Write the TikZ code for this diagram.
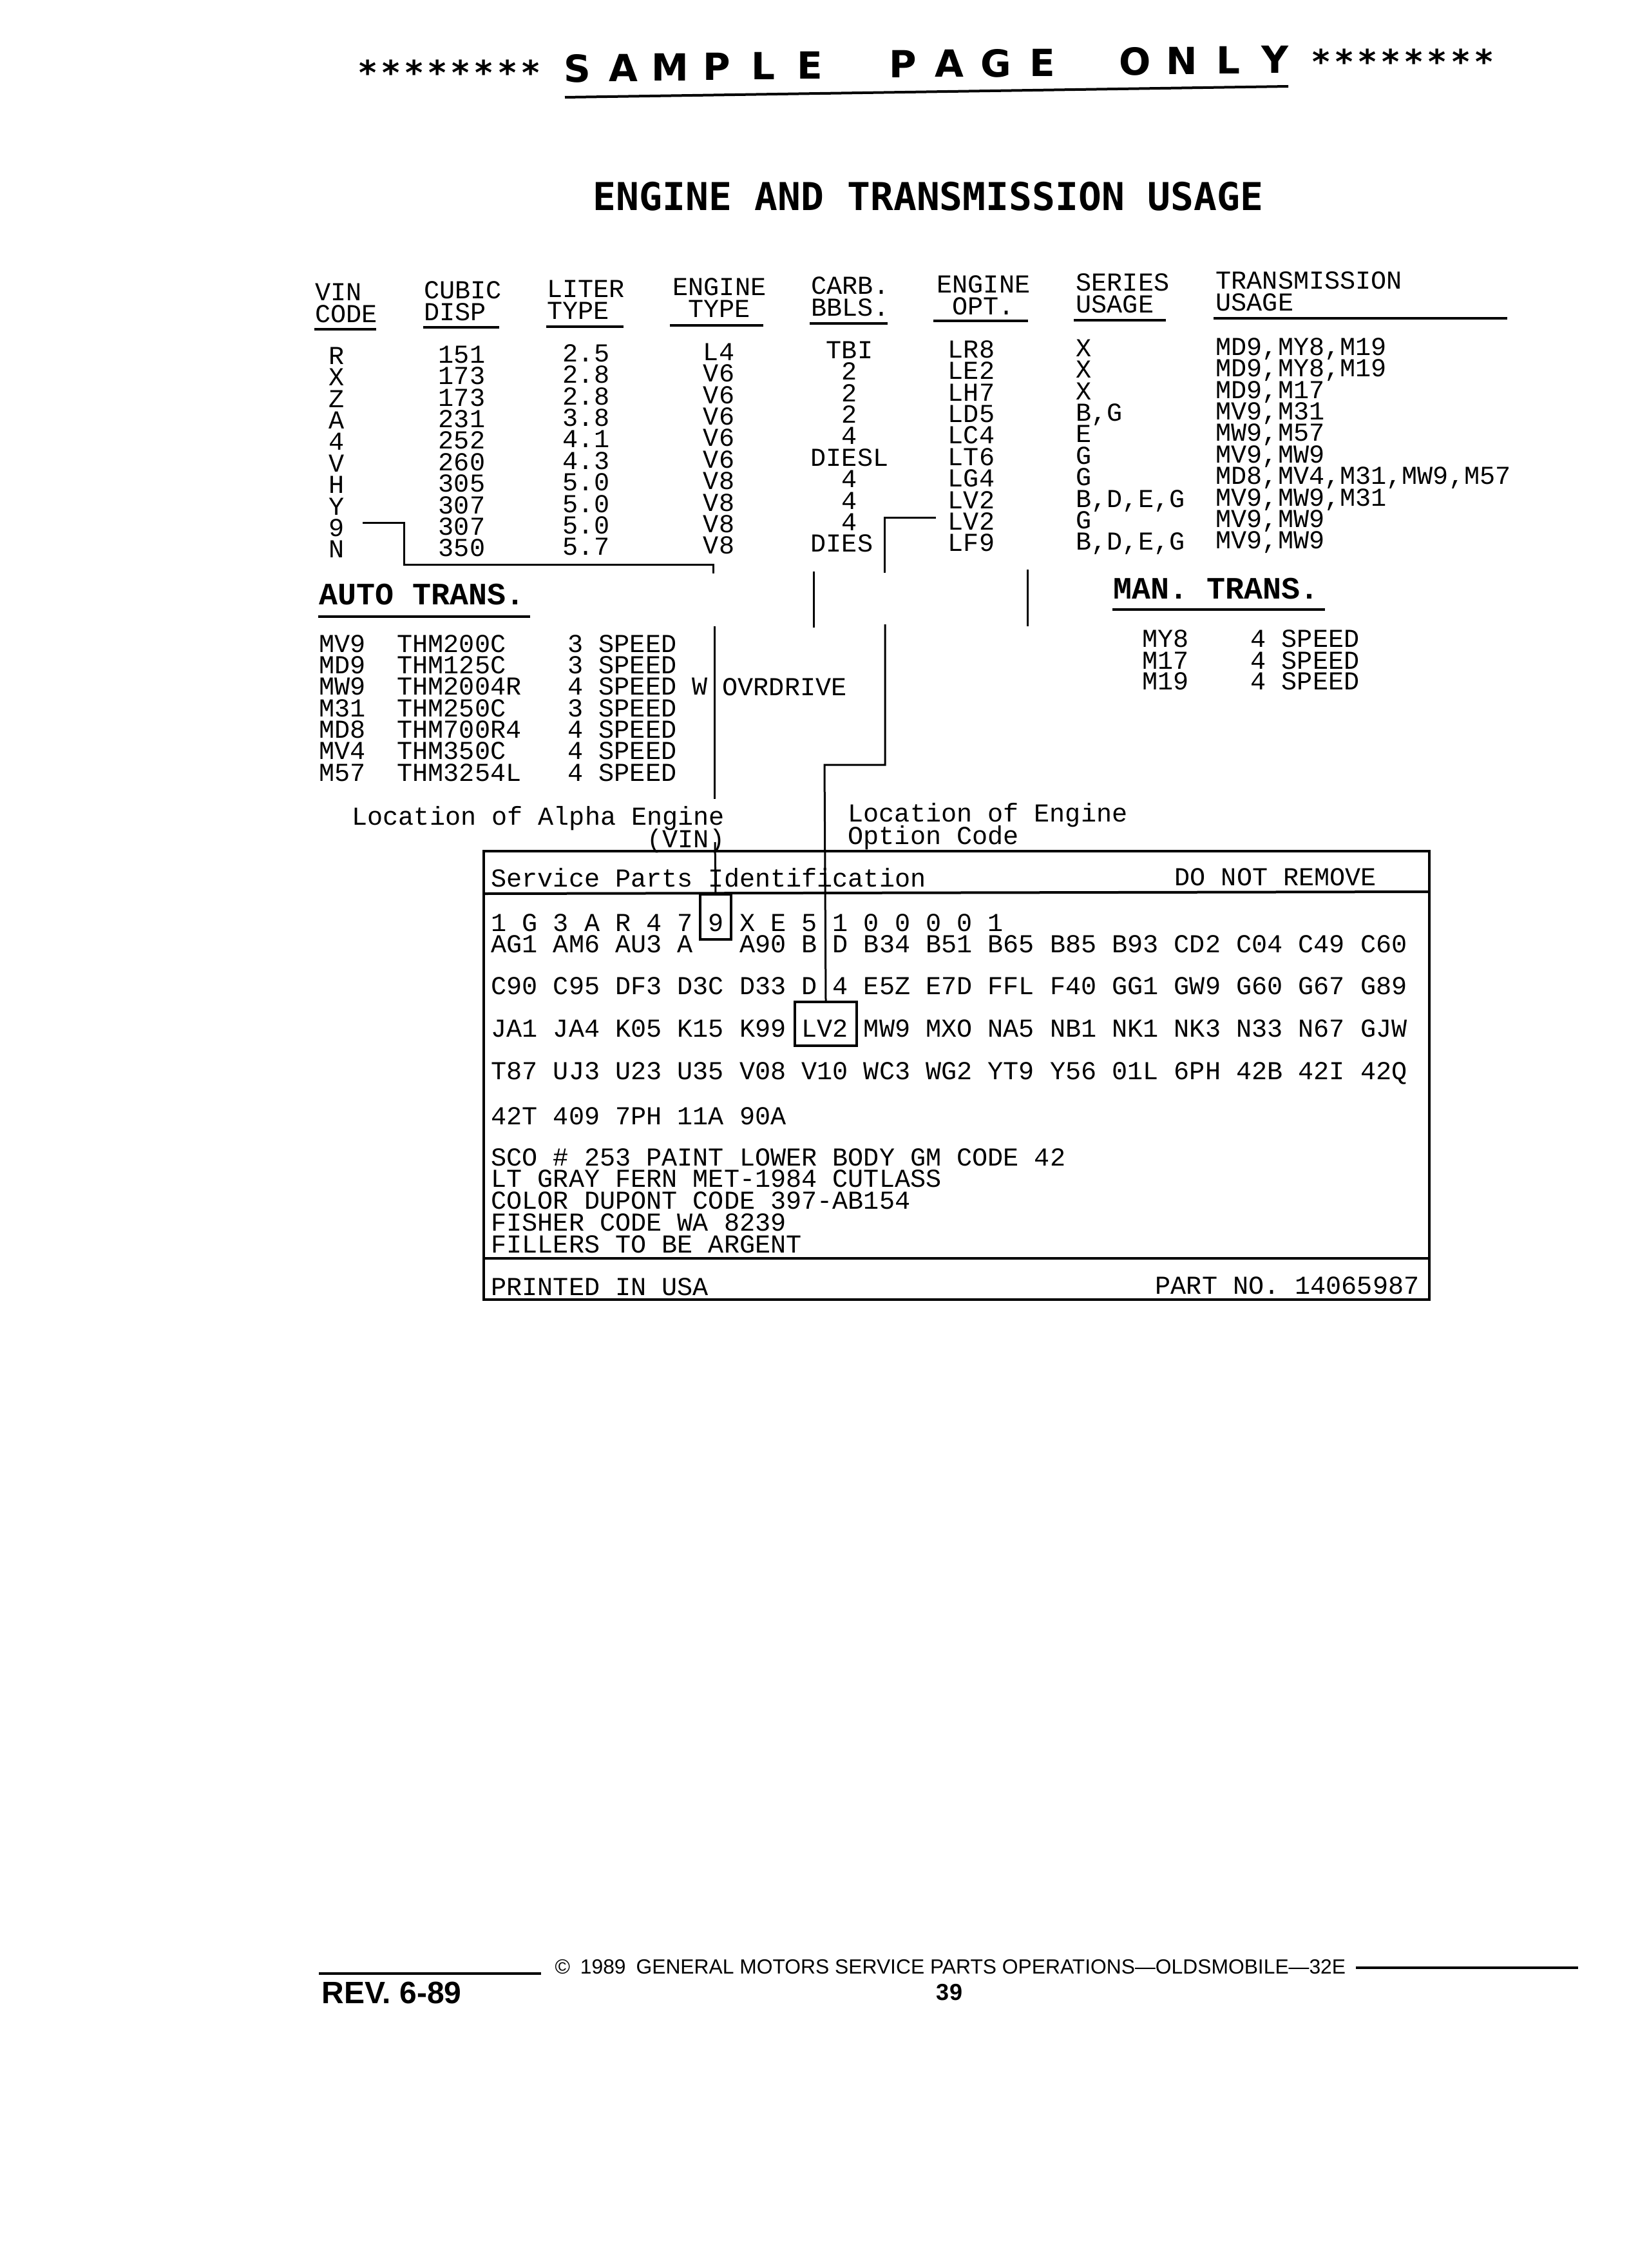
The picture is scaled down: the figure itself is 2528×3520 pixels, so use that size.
\documentclass[tikz,border=0pt]{standalone}
\usepackage{fontspec}
\setmainfont{Liberation Sans}
\setmonofont{Liberation Mono}
\newfontfamily\headfont{DejaVu Sans Mono}
\newfontfamily\samplefont{DejaVu Sans}
\usetikzlibrary{positioning}

\begin{document}
\begin{tikzpicture}[x=0.25pt, y=-0.25pt, line width=0.8pt]
    \tikzstyle{txt}=[inner sep=0pt, font=\ttfamily\fontsize{10.04}{12}\selectfont, text height=6.62pt, text depth=0pt]
    \tikzstyle{lt}=[txt, anchor=west]
    \tikzstyle{hd}=[inner sep=0pt, font=\headfont\bfseries\fontsize{14.9}{17}\selectfont, text height=10.86pt, text depth=0pt]
    \tikzstyle{sub}=[inner sep=0pt, anchor=west, font=\ttfamily\bfseries\fontsize{12.08}{14}\selectfont, text height=7.96pt, text depth=0pt]
    \tikzstyle{spl}=[inner sep=0pt, font=\samplefont\bfseries\fontsize{14.5}{17}\selectfont, text height=10.57pt, text depth=0pt]
    \tikzstyle{star}=[inner sep=0pt, anchor=north, font=\samplefont\bfseries\fontsize{13}{15}\selectfont]
    \tikzstyle{rule}=[line width=0.9pt]
    \tikzstyle{conn}=[line width=0.75pt]
    \tikzstyle{codebox}=[draw, line width=0.8pt, inner sep=0pt]
    \tikzstyle{foot}=[inner sep=0pt, text depth=0pt]

    \path[fill=white, use as bounding box] (0,0) rectangle (2528,3520);

    % sample page banner
    \foreach \k in {0,...,7} {
        \node[star] (al\k) at (571+36.1*\k,91) {*};
        \node[star] (ar\k) at (2051+36.1*\k,74) {*};
    }
    \foreach \k/\ch in {0/S,1/A,2/M,3/P,4/L,5/E,7/P,8/A,9/G,10/E,12/O,13/N,14/L,15/Y}
        \node[spl] (sp\k) at (896+72.2*\k,106-0.9*\k) {\ch};
    \draw[line width=1pt] (877,151) -- (2000,134);

    \node[hd] (title) at (1441,305) {ENGINE AND TRANSMISSION USAGE};

    % column heads
    \foreach \hx/\hy/\ha/\hb/\ho in {488/453/VIN/CODE/0, 657/450/CUBIC/DISP/0, 848/448/LITER/TYPE/0,
        1043/445/ENGINE/TYPE/24, 1258/443/CARB./BBLS./0, 1453/441/ENGINE/OPT./24,
        1669/438/SERIES/USAGE/0, 1886/435/TRANSMISSION/USAGE/0} {
        \node[lt] (ha\hx) at (\hx,\hy) {\ha};
        \node[lt] (hb\hx) at (\hx+\ho,\hy+34) {\hb};
    }
    \foreach \ua/\ub/\uy in {488/584/511, 657/775/508, 848/968/507, 1040/1185/505,
        1257/1378/502, 1449/1596/498, 1667/1810/497, 1884/2340/494}
        \draw[rule] (\ua,\uy) -- (\ub,\uy);

    % engine rows
    \foreach \vc/\cd/\lt/\et/\cb/\eo/\su/\tu [count=\i from 0] in {
        R/151/2.5/L4/TBI/LR8/X/{MD9,MY8,M19},
        X/173/2.8/V6/2/LE2/X/{MD9,MY8,M19},
        Z/173/2.8/V6/2/LH7/X/{MD9,M17},
        A/231/3.8/V6/2/LD5/{B,G}/{MV9,M31},
        4/252/4.1/V6/4/LC4/E/{MW9,M57},
        V/260/4.3/V6/DIESL/LT6/G/{MV9,MW9},
        H/305/5.0/V8/4/LG4/G/{MD8,MV4,M31,MW9,M57},
        Y/307/5.0/V8/4/LV2/{B,D,E,G}/{MV9,MW9,M31},
        9/307/5.0/V8/4/LV2/G/{MV9,MW9},
        N/350/5.7/V8/{DIES\phantom{L}}/LF9/{B,D,E,G}/{MV9,MW9}} {
        \node[txt] (vc\i) at (523,552+33.4*\i) {\vc};
        \node[txt] (cd\i) at (717,550+33.4*\i) {\cd};
        \node[txt] (lt\i) at (910,548+33.4*\i) {\lt};
        \node[txt] (et\i) at (1116,546+33.4*\i) {\et};
        \node[txt] (cb\i) at (1319,543+33.4*\i) {\cb};
        \node[txt] (eo\i) at (1508,542+33.4*\i) {\eo};
        \node[lt] (su\i) at (1669,540+33.4*\i) {\su};
        \node[lt] (tu\i) at (1886,538+33.4*\i) {\tu};
    }

    % automatic transmissions
    \node[sub] (auto) at (494,923) {AUTO TRANS.};
    \draw[rule] (494,957) -- (823,957);
    \foreach \ta/\tb/\tc [count=\i from 0] in {MV9/THM200C/3 SPEED, MD9/THM125C/3 SPEED,
        MW9/THM2004R/4 SPEED W, M31/THM250C/3 SPEED, MD8/THM700R4/4 SPEED,
        MV4/THM350C/4 SPEED, M57/THM3254L/4 SPEED} {
        \node[lt] (ta\i) at (494,999+33.3*\i) {\ta};
        \node[lt] (tb\i) at (615,999+33.3*\i) {\tb};
        \node[lt] (tc\i) at (880,999+33.3*\i) {\tc};
    }
    \node[lt] (ovr) at (1120,1066) {OVRDRIVE};

    % manual transmissions
    \node[sub] (man) at (1727,914) {MAN. TRANS.};
    \draw[rule] (1727,946) -- (2057,946);
    \foreach \ma/\my in {MY8/991, M17/1025, M19/1057} {
        \node[lt] (ma\ma) at (1772,\my) {\ma};
        \node[lt] (mb\ma) at (1940,\my) {4 SPEED};
    }

    % callouts
    \node[lt] (alpha) at (545,1267) {Location of Alpha Engine};
    \node[lt] (vinlbl) at (1003,1302) {(VIN)};
    \node[lt] (optlbl) at (1315,1262) {Location of Engine};
    \node[lt] (optlbl2) at (1315,1297) {Option Code};

    % service parts identification label
    \draw[line width=1pt] (751,1321) rectangle (2219,2017);
    \draw[line width=1pt] (751,1387) -- (2219,1384);
    \draw[line width=1pt] (751,1953) -- (2219,1953);
    \node[lt] (spid) at (761,1363) {Service Parts Identification};
    \node[lt] (dnr) at (1822,1361) {DO NOT REMOVE};
    \node[lt] (r1) at (761,1432) {1 G 3 A R 4 7 9 X E 5 1 0 0 0 0 1};
    \node[lt] (r2) at (761,1465) {AG1 AM6 AU3 A\ \ \ A90 B D B34 B51 B65 B85 B93 CD2 C04 C49 C60};
    \node[lt] (r3) at (761,1530) {C90 C95 DF3 D3C D33 D 4 E5Z E7D FFL F40 GG1 GW9 G60 G67 G89};
    \node[lt] (r4) at (761,1596) {JA1 JA4 K05 K15 K99 LV2 MW9 MXO NA5 NB1 NK1 NK3 N33 N67 GJW};
    \node[lt] (r5) at (761,1662) {T87 UJ3 U23 U35 V08 V10 WC3 WG2 YT9 Y56 01L 6PH 42B 42I 42Q};
    \node[lt] (r6) at (761,1732) {42T 409 7PH 11A 90A};
    \foreach \ln [count=\i from 0] in {SCO \# 253 PAINT LOWER BODY GM CODE 42, LT GRAY FERN MET-1984 CUTLASS,
        COLOR DUPONT CODE 397-AB154, FISHER CODE WA 8239, FILLERS TO BE ARGENT}
        \node[lt] (pn\i) at (761,1796+33.7*\i) {\ln};
    \node[lt] (usa) at (761,1997) {PRINTED IN USA};
    \node[txt, anchor=east] (partno) at (2205,1995) {PART NO. 14065987};

    \node[codebox, minimum width=12pt, minimum height=17.5pt] (vinbox) at (1111,1423) {};
    \node[codebox, minimum width=24pt, minimum height=17pt] (lvbox) at (1282,1589) {};

    % leader lines
    \draw[conn] (563,811) -- (627,811) -- (627,876) -- (1107,876) -- (1107,890);
    \draw[conn] (1109,972) -- (1109,1240);
    \draw[conn] (1110,1307) -- (vinbox.north);
    \draw[conn] (1453,803) -- (1373,803) -- (1373,889);
    \draw[conn] (1374,969) -- (1374,1187) -- (1280,1187) -- (lvbox.north);
    \draw[conn] (1263,887) -- (1263,974);
    \draw[conn] (1595,884) -- (1595,972);

    % page foot
    \draw[rule] (495,3063) -- (840,3063);
    \node[foot, anchor=west, font=\fontsize{7.95}{9}\selectfont, text height=5.5pt] (copy) at (860,3052)
        {©\enspace1989\enspace GENERAL MOTORS SERVICE PARTS OPERATIONS—OLDSMOBILE—32E};
    \draw[rule] (2105,3054) -- (2450,3054);
    \node[foot, anchor=west, font=\bfseries\fontsize{12}{14}\selectfont, text height=8.4pt] (rev) at (498,3093) {REV. 6-89};
    \node[foot, font=\bfseries\fontsize{9}{11}\selectfont, text height=6.3pt] (pg) at (1474,3092) {39};
\end{tikzpicture}
\end{document}
